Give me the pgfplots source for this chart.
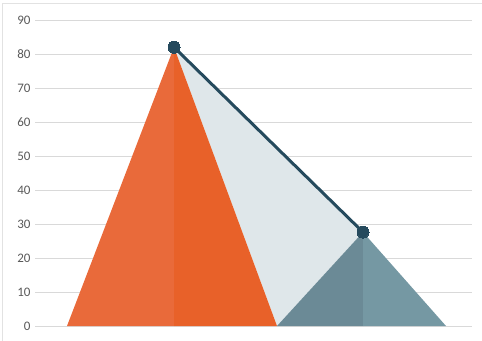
\documentclass[border=0pt]{standalone}
\usepackage{pgfplots}
\pgfplotsset{compat=1.18}
\usepackage{fontspec}
\setmainfont{Carlito}
\definecolor{orL}{RGB}{233,106,58}
\definecolor{orR}{RGB}{232,97,41}
\definecolor{gyL}{RGB}{107,138,150}
\definecolor{gyR}{RGB}{117,152,163}
\definecolor{fillA}{RGB}{223,231,234}
\definecolor{lineC}{RGB}{37,74,93}
\definecolor{gridC}{RGB}{217,217,217}
\definecolor{txtC}{RGB}{89,89,89}
\begin{document}
\begin{tikzpicture}
\path[use as bounding box] (0,0) rectangle (482bp,341bp);
\draw[color={rgb,255:red,226;green,226;blue,226},line width=1bp] (2.5bp,-5bp) -- (2.5bp,337bp) -- (490bp,337bp);
\begin{axis}[
  at={(35bp,15bp)}, anchor=south west,
  scale only axis, width=437bp, height=306bp,
  xmin=35, xmax=472, ymin=0, ymax=90,
  xtick=\empty, ytick distance=10,
  axis line style={draw=none},
  major tick length=0pt,
  ymajorgrids, grid style={gridC, line width=1bp},
  yticklabel style={font=\fontsize{13bp}{15bp}\selectfont, text=txtC, xshift=-1bp},
  /pgf/number format/assume math mode=true,
  clip=false,
]
\addplot[fill=fillA, draw=none] coordinates {(174,82) (363,27.6) (277,0)} -- cycle;
\addplot[fill=orL, draw=none] coordinates {(67,0) (174,82) (174,0)} -- cycle;
\addplot[fill=orR, draw=none] coordinates {(174,0) (174,82) (277,0)} -- cycle;
\addplot[fill=gyL, draw=none] coordinates {(277,0) (363,27.6) (363,0)} -- cycle;
\addplot[fill=gyR, draw=none] coordinates {(363,0) (363,27.6) (446,0)} -- cycle;
\addplot[lineC, line width=3bp, mark=*, mark size=6bp, mark options={fill=lineC, draw=lineC, line width=0pt}] coordinates {(174,82) (363,27.6)};
\end{axis}
\end{tikzpicture}
\end{document}
